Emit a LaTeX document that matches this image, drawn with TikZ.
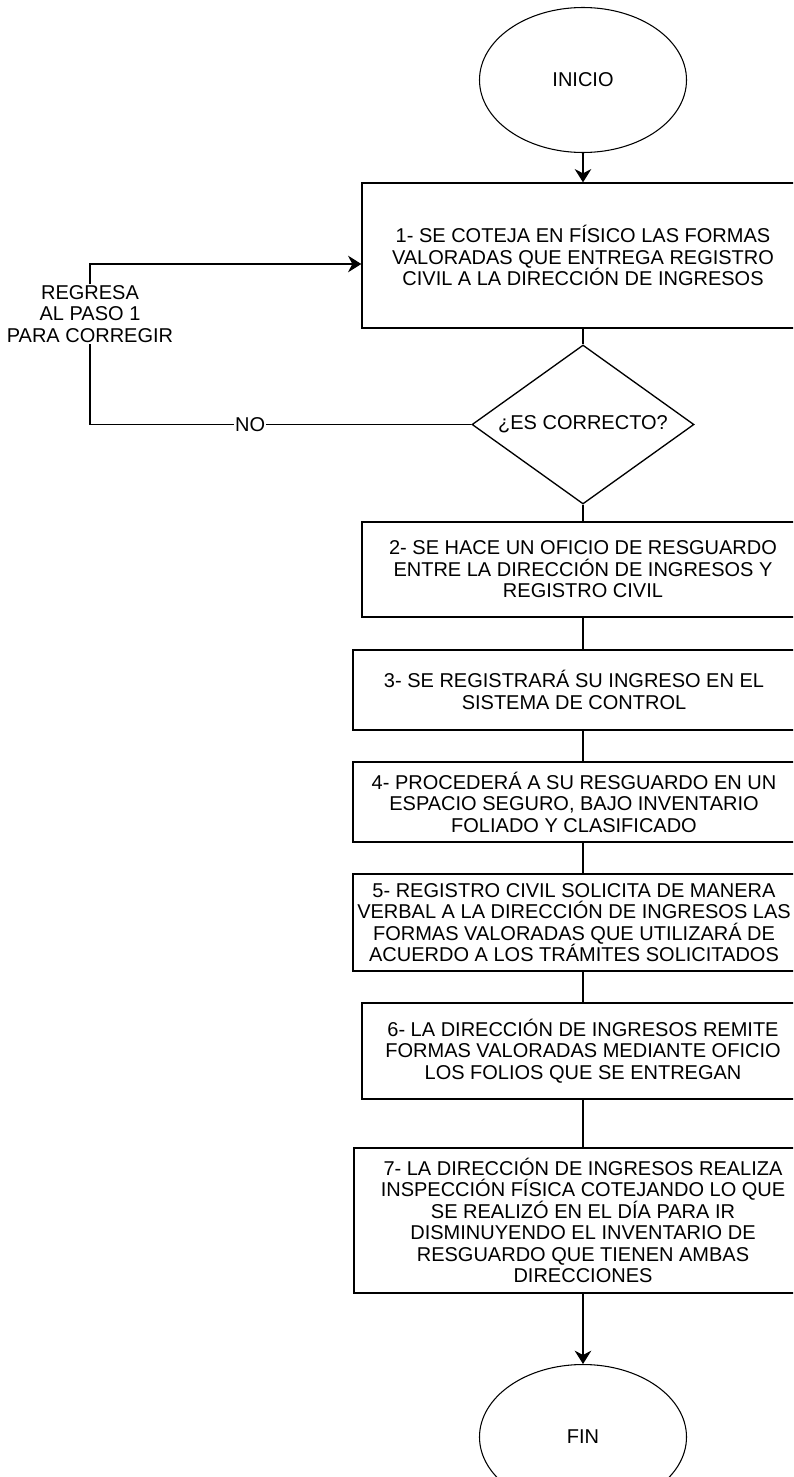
\documentclass[tikz,border=0pt]{standalone}
\usepackage{fontspec}
\setmainfont{Liberation Sans}
\usetikzlibrary{shapes.geometric, arrows.meta}
\tikzstyle{startstop} = [ellipse, minimum width=155.25pt, minimum height=108.75pt, inner sep=0pt, draw=black, line width=0.8pt]
\tikzstyle{process} = [rectangle, text centered, align=center, inner sep=2pt, draw=black, line width=1pt]
\tikzstyle{decision} = [diamond, aspect=1.4, minimum width=166.5pt, minimum height=119.25pt, inner sep=0pt, text centered, draw=black, line width=1pt]
\tikzstyle{arrow} = [line width=1pt, -{Stealth[length=10pt,width=12.5pt]}]
\tikzstyle{line} = [line width=1pt]
\tikzstyle{lbl} = [fill=white, inner sep=1pt, align=center]

\begin{document}
\begin{tikzpicture}[x=0.75pt, y=-0.75pt, font=\fontsize{15}{16.1}\selectfont]
\useasboundingbox (0,0) rectangle (793,1477);
\clip (0,0) rectangle (793,1477);

\node (start) [startstop] at (583,80) {INICIO};
\node (p1) [process, minimum width=331.5pt, minimum height=108.75pt] at (583,255.5) {1- SE COTEJA EN FÍSICO LAS FORMAS\\VALORADAS QUE ENTREGA REGISTRO\\CIVIL A LA DIRECCIÓN DE INGRESOS};
\node (dec) [decision] at (583,424.5) {¿ES CORRECTO?};
\node (p2) [process, minimum width=331.5pt, minimum height=71.25pt] at (583,569.5) {2- SE HACE UN OFICIO DE RESGUARDO\\ENTRE LA DIRECCIÓN DE INGRESOS Y\\REGISTRO CIVIL};
\node (p3) [process, minimum width=331.5pt, minimum height=60pt] at (574,690) {3- SE REGISTRARÁ SU INGRESO EN EL\\SISTEMA DE CONTROL};
\node (p4) [process, minimum width=331.5pt, minimum height=60pt] at (574,802) {4- PROCEDERÁ A SU RESGUARDO EN UN\\ESPACIO SEGURO, BAJO INVENTARIO\\FOLIADO Y CLASIFICADO};
\node (p5) [process, minimum width=331.5pt, minimum height=72.75pt] at (574,922.5) {5- REGISTRO CIVIL SOLICITA DE MANERA\\VERBAL A LA DIRECCIÓN DE INGRESOS LAS\\FORMAS VALORADAS QUE UTILIZARÁ DE\\ACUERDO A LOS TRÁMITES SOLICITADOS};
\node (p6) [process, minimum width=331.5pt, minimum height=72pt] at (583,1051) {6- LA DIRECCIÓN DE INGRESOS REMITE\\FORMAS VALORADAS MEDIANTE OFICIO\\LOS FOLIOS QUE SE ENTREGAN};
\node (p7) [process, minimum width=343.5pt, minimum height=108.75pt] at (583,1220.5) {7- LA DIRECCIÓN DE INGRESOS REALIZA\\INSPECCIÓN FÍSICA COTEJANDO LO QUE\\SE REALIZÓ EN EL DÍA PARA IR\\DISMINUYENDO EL INVENTARIO DE\\RESGUARDO QUE TIENEN AMBAS\\DIRECCIONES};
\node (stop) [startstop] at (583,1437) {FIN};

\coordinate (back) at (90,424.5);
\coordinate (up) at (90,264);

\draw [arrow] (start) -- (p1);
\draw [line] (p1) -- (dec);
\draw [line] (dec) -- (p2);
\draw [line] (p2.south) -- (p2.south |- p3.north);
\draw [line] (p2.south |- p3.south) -- (p2.south |- p4.north);
\draw [line] (p2.south |- p4.south) -- (p2.south |- p5.north);
\draw [line] (p6.north |- p5.south) -- (p6.north);
\draw [line] (p6) -- (p7);
\draw [arrow] (p7) -- (stop);
\draw [arrow] (dec.west) -- node[lbl, pos=0.58] {NO} (back) -- node[lbl, pos=0.69] {REGRESA\\AL PASO 1\\PARA CORREGIR} (up) -- (p1.west |- up);
\end{tikzpicture}
\end{document}
